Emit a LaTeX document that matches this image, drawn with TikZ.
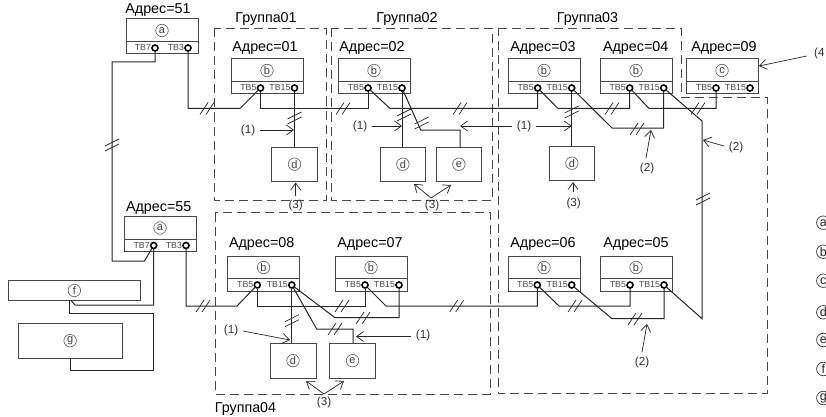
\documentclass[tikz,border=0pt]{standalone}
\usepackage{fontspec}
\setmainfont{Liberation Sans}
\usetikzlibrary{arrows.meta,calc}
\definecolor{wire}{gray}{0.15}
\definecolor{boxline}{gray}{0.28}
\definecolor{tbtext}{gray}{0.3}
\newcommand{\addrfont}{\fontsize{14.3}{16}\selectfont}
\newcommand{\lblfont}{\fontsize{11.7}{13}\selectfont}
\newcommand{\tbfont}{\fontsize{8.8}{10}\selectfont}
\tikzset{
  x=1pt,y=-1pt,
  wireline/.style={wire,line width=1pt,line join=miter},
  groupbox/.style={black!72,line width=0.9pt,dash pattern=on 9pt off 5pt},
  unitbox/.style={draw=boxline,line width=1pt,fill=white,minimum width=72pt,minimum height=35pt,inner sep=0pt,outer sep=0pt,anchor=north west},
  plainbox/.style={draw=boxline,line width=1pt,fill=white,inner sep=0pt,outer sep=0pt,anchor=north west},
  term/.style={circle,draw=black,line width=1.6pt,fill=white,minimum size=6pt,inner sep=0pt,outer sep=0pt},
  circled/.style={circle,draw=black!65,line width=0.6pt,minimum size=12.5pt,inner sep=0pt,font=\fontsize{11}{12}\selectfont,text=black!75},
  legendmark/.style={circle,draw=black!80,line width=0.7pt,minimum size=13.5pt,inner sep=0pt,font=\fontsize{12.5}{14}\selectfont,text=black!85},
  grouplabel/.style={font=\addrfont,inner sep=0pt},
  lbl/.style={font=\lblfont,text=black!80,inner sep=0pt},
  callout/.style={black!85,line width=0.7pt,-{Straight Barb[length=7pt,width=10pt,line width=0.7pt]}},
  slashmark/.style={black!85,line width=0.7pt},
}
% \unit{name}{x}{y}{letter}{left label}{right label}{left term dx}{right term dx}
\newcommand{\unit}[8]{%
  \node[unitbox] (#1) at (#2,#3) {};
  \node[circled] (#1l) at ($(#1.north west)+(36,11.5)$) {#4};
  \draw[boxline,line width=1pt] ($(#1.north west)+(0,22.5)$) -- ($(#1.north east)+(0,22.5)$);
  \node[term] (#1L) at ($(#1.north west)+(#7,29)$) {};
  \node[term] (#1R) at ($(#1.north west)+(#8,29)$) {};
  \node[font=\tbfont,text=tbtext,inner sep=0pt,anchor=east] (#1p) at ($(#1L.west)+(-0.8,-0.2)$) {#5};
  \node[font=\tbfont,text=tbtext,inner sep=0pt,anchor=east] (#1q) at ($(#1R.west)+(-0.8,-0.2)$) {#6};
}
\newcommand{\slashat}[2]{\draw[slashmark] (#1-7,#2+6) -- (#1+1,#2-6) (#1-1,#2+6) -- (#1+7,#2-6);}
\newcommand{\slashv}[2]{\draw[slashmark] (#1-7,#2+3) -- (#1+7,#2-4) (#1-7,#2+8) -- (#1+7,#2+1);}
\begin{document}
\begin{tikzpicture}
\useasboundingbox (0,0) rectangle (826,417);
\fill[white] (0,0) rectangle (826,417);

% groups
\draw[groupbox] (214,28.5) rectangle (326,200);
\draw[groupbox] (331,28.5) rectangle (492.5,200);
\draw[groupbox] (498,28.5) -- (681,28.5) -- (681,97.7) -- (767,97.7) -- (767,393.5) -- (498,393.5) -- cycle;
\draw[groupbox] (215,212.7) rectangle (490,394);
\node[grouplabel] (g1) at (266,19) {Группа01};
\node[grouplabel] (g2) at (407,19) {Группа02};
\node[grouplabel] (g3) at (587.5,19) {Группа03};
\node[grouplabel] (g4) at (245.5,408.5) {Группа04};

% units
\unit{a1}{126}{19}{a}{TB7}{TB3}{29}{62}
\unit{a2}{124}{216.5}{a}{TB7}{TB3}{29.7}{62}
\unit{b1}{231}{59}{b}{TB5}{TB15}{29.5}{63.5}
\unit{b2}{338}{59}{b}{TB5}{TB15}{30}{64}
\unit{b3}{508}{59}{b}{TB5}{TB15}{29.7}{63.7}
\unit{b4}{600}{59}{b}{TB5}{TB15}{29.7}{63.7}
\unit{c9}{686}{59}{c}{TB5}{TB15}{30}{64}
\unit{b8}{227.5}{256}{b}{TB5}{TB15}{29.8}{64.3}
\unit{b7}{335}{256}{b}{TB5}{TB15}{30}{64}
\unit{b6}{508}{256}{b}{TB5}{TB15}{29.3}{63.7}
\unit{b5}{600}{256}{b}{TB5}{TB15}{30}{64}

% addresses
\node[grouplabel] (t51) at (158,10) {Адрес=51};
\node[grouplabel] (t55) at (158.7,208) {Адрес=55};
\node[grouplabel] (t01) at (265,48) {Адрес=01};
\node[grouplabel] (t02) at (372,48) {Адрес=02};
\node[grouplabel] (t03) at (543,48) {Адрес=03};
\node[grouplabel] (t04) at (635.7,48) {Адрес=04};
\node[grouplabel] (t09) at (724,48) {Адрес=09};
\node[grouplabel] (t08) at (261.7,244) {Адрес=08};
\node[grouplabel] (t07) at (370,244) {Адрес=07};
\node[grouplabel] (t06) at (543,244) {Адрес=06};
\node[grouplabel] (t05) at (636,244) {Адрес=05};

% other units
\node[plainbox,minimum width=45.7pt,minimum height=34.4pt] (d1) at (271.7,147) {};
\node[plainbox,minimum width=45.7pt,minimum height=34.4pt] (d2) at (380,147) {};
\node[plainbox,minimum width=45.7pt,minimum height=34.4pt] (e2) at (436,147) {};
\node[plainbox,minimum width=45.7pt,minimum height=34.4pt] (d3) at (549,146) {};
\node[plainbox,minimum width=46pt,minimum height=34.7pt] (d8) at (270,343.3) {};
\node[plainbox,minimum width=45.7pt,minimum height=34.7pt] (e8) at (329.7,343.3) {};
\node[plainbox,minimum width=132.7pt,minimum height=19.6pt] (f) at (8,280.7) {};
\node[plainbox,minimum width=104.3pt,minimum height=34.7pt] (g) at (18,323.3) {};
\node[circled] (d1l) at (d1.center) {d};
\node[circled] (d2l) at (d2.center) {d};
\node[circled] (e2l) at (e2.center) {e};
\node[circled] (d3l) at (d3.center) {d};
\node[circled] (d8l) at (d8.center) {d};
\node[circled] (e8l) at (e8.center) {e};
\node[circled] (fl) at (f.center) {f};
\node[circled] (gl) at (g.center) {g};

% upper bus
\draw[wireline] (a1R) -- (a1R|-0,108.5) -- (240,108.5) -- (b1L);
\draw[wireline] (b1L) -- (b1L|-0,108.5) -- (b2L|-0,108.5) -- (b2L);
\draw[wireline] (b2L) -- (390,108.5) -- (b3L|-0,108.5) -- (b3L);
\draw[wireline] (b3L) -- (558,108.5) -- (b4L|-0,108.5) -- (b4L);
\draw[wireline] (b4L) -- (649,108.5) -- (c9L|-0,108.5) -- (c9L);
% lower bus
\draw[wireline] (a2R) -- (a2R|-0,306) -- (237,306) -- (b8L);
\draw[wireline] (b8L) -- (b8L|-0,306) -- (b7L|-0,306) -- (b7L);
\draw[wireline] (b7L) -- (386,306) -- (b6L|-0,306) -- (b6L);
\draw[wireline] (b6L) -- (559,306) -- (b5L|-0,306) -- (b5L);
% link between system controllers
\draw[wireline] (a1L) -- (a1L|-0,62) -- (112,62) -- (112,261) -- (144.5,261) -- (a2L);
\draw[wireline] (a2L) -- (a2L|-0,305) -- (75,305) -- (f.south-|71,0);
\draw[wireline] (f.south-|69.3,0) -- (69.3,313.3) -- (153.7,313.3) -- (153.7,370) -- (70.3,370) -- (g.south-|70.3,0);
% branch wiring
\draw[wireline] (b1R) -- (d1.north-|b1R);
\draw[wireline] (b2R) -- (d2.north-|b2R);
\draw[wireline] (b2R) -- (420.7,130) -- (460,130) -- (e2.north-|460,0);
\draw[wireline] (b3R) -- (d3.north-|b3R);
\draw[wireline] (b3R) -- (612,128) -- (b4R|-0,128) -- (b4R);
\draw[wireline] (b4R) -- (702,121) -- (702,318.7) -- (b5R);
\draw[wireline] (b6R) -- (612,318.7) -- (b5R|-0,318.7) -- (b5R);
\draw[wireline] (b8R) -- (d8.north-|b8R);
\draw[wireline] (b8R) -- (316.7,329) -- (353,329) -- (e8.north-|353,0);
\draw[wireline] (b8R) -- (335,317.7) -- (b7R|-0,317.7) -- (b7R);

% slash marks
\slashat{207}{108.5}\slashat{343}{108.5}\slashat{460}{108.5}\slashat{612}{108.5}\slashat{698}{108.5}
\slashat{203}{306}\slashat{342}{306}\slashat{456.7}{306}\slashat{575}{306}
\slashat{637}{129}\slashat{635}{319}\slashat{363}{318}\slashat{335}{329}
\slashv{112}{143}\slashv{294.5}{116}\slashv{404}{113}\slashv{421.7}{121}\slashv{571.7}{110}\slashv{703}{197}\slashv{292}{318.7}

% labels and callouts
\coordinate (c1a) at (294,130);
\node[lbl] (l1a) at (248,130) {(1)};
\draw[callout] (l1a.east)++(5,0) -- (c1a);
\coordinate (c1b) at (402,126);
\node[lbl] (l1b) at (360,126) {(1)};
\draw[callout] (l1b.east)++(5,0) -- (c1b);
\node[lbl] (l1c) at (524,126) {(1)};
\coordinate (c1c) at (460,126);
\coordinate (c1d) at (571.7,126);
\draw[callout] (l1c.west)++(-5,0) -- (c1c);
\draw[callout] (l1c.east)++(5,0) -- (c1d);
\node[lbl] (l1d) at (231,330) {(1)};
\coordinate (c1e) at (290,340);
\draw[callout] (243,331) -- (c1e);
\node[lbl] (l1e) at (423,335) {(1)};
\coordinate (c1f) at (356,336.5);
\draw[callout] (l1e.west)++(-5,1.5) -- (c1f);

\node[lbl] (l2a) at (647,168) {(2)};
\coordinate (c2a) at (651,130);
\draw[callout] (646,158) -- (c2a);
\node[lbl] (l2b) at (736,147) {(2)};
\coordinate (c2b) at (703,140);
\draw[callout] (724,146) -- (c2b);
\node[lbl] (l2c) at (642,362) {(2)};
\coordinate (c2c) at (647,324);
\draw[callout] (642,352) -- (c2c);

\node[lbl] (l3a) at (295.7,205) {(3)};
\draw[callout] (295.7,196) -- (295.7,182.5);
\node[lbl] (l3b) at (432,205) {(3)};
\coordinate (c3a) at (414,184);
\coordinate (c3b) at (451,185);
\draw[callout] (431,198) -- (c3a);
\draw[callout] (431,198) -- (c3b);
\node[lbl] (l3c) at (573.7,203) {(3)};
\draw[callout] (573,192) -- (573,182);
\node[lbl] (l3d) at (324,402) {(3)};
\coordinate (c3c) at (306,381);
\coordinate (c3d) at (344,381);
\draw[callout] (324,394) -- (c3c);
\draw[callout] (324,394) -- (c3d);

\node[lbl,anchor=west] (l4) at (814,53) {(4};
\coordinate (c4) at (759,66);
\draw[callout] (806.7,56) -- (c4);

% legend, cut by the right edge as in the reference
\node[legendmark] (k1) at (823.3,222.7) {a};
\node[legendmark] (k2) at (823.3,251.7) {b};
\node[legendmark] (k3) at (823.3,280.7) {c};
\node[legendmark] (k4) at (823.3,312.3) {d};
\node[legendmark] (k5) at (823.3,340) {e};
\node[legendmark] (k6) at (823.3,369) {f};
\node[legendmark] (k7) at (823.3,398) {g};
\end{tikzpicture}
\end{document}
